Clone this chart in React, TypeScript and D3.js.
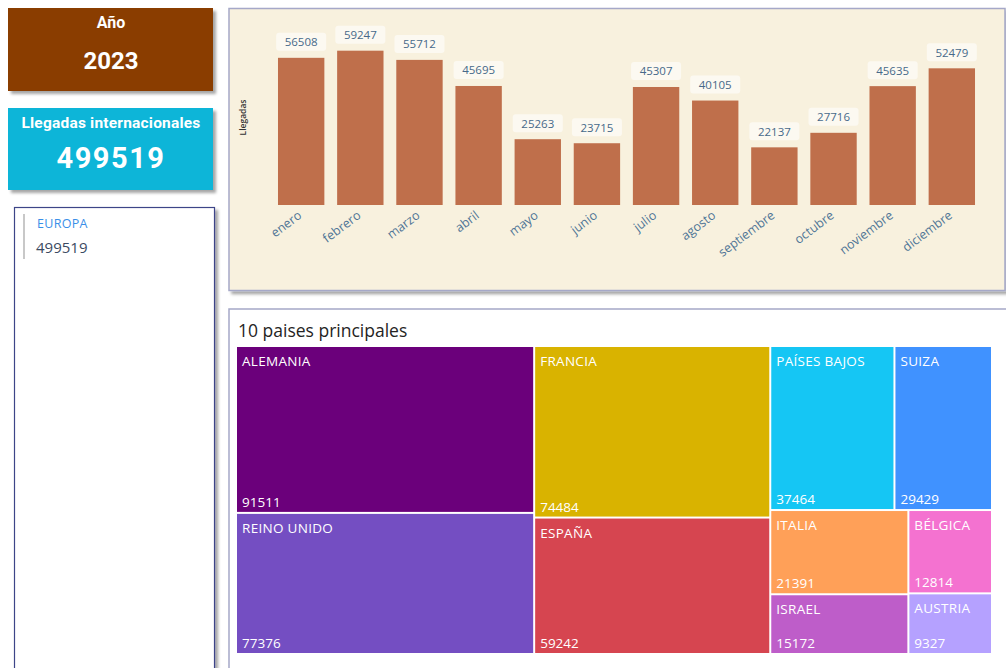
import * as d3 from 'd3'

const YEAR = '2023'
const TOTAL = 499519
const REGION = 'EUROPA'

const MONTHS = ['enero', 'febrero', 'marzo', 'abril', 'mayo', 'junio', 'julio', 'agosto', 'septiembre', 'octubre', 'noviembre', 'diciembre']
const ARRIVALS = [56508, 59247, 55712, 45695, 25263, 23715, 45307, 40105, 22137, 27716, 45635, 52479]

const COUNTRIES = ['ALEMANIA', 'REINO UNIDO', 'FRANCIA', 'ESPAÑA', 'PAÍSES BAJOS', 'SUIZA', 'ITALIA', 'ISRAEL', 'BÉLGICA', 'AUSTRIA']
const COUNTRY_VALUES = [91511, 77376, 74484, 59242, 37464, 29429, 21391, 15172, 12814, 9327]
const COUNTRY_COLORS = ['#6b007b', '#744ec2', '#d9b300', '#d64550', '#15c6f4', '#4092ff', '#ffa058', '#be5dc9', '#f472d0', '#b5a1ff']

const SEGOE = '"Open Sans", "Noto Sans", sans-serif'
const DIN = 'Roboto, "DejaVu Sans", sans-serif'

export default function App() {
  // bar chart scales
  const x = d3.scaleBand<string>()
    .domain(MONTHS)
    .range([271.6, 981.4])
    .paddingInner(0.216)
    .paddingOuter(0.108)
  const y = d3.scaleLinear().domain([0, 65000]).range([205, 35.7])

  // treemap
  const root = d3.hierarchy<any>({ children: COUNTRIES.map((name, i) => ({ name, value: COUNTRY_VALUES[i], color: COUNTRY_COLORS[i] })) })
    .sum((d: any) => d.value || 0)
    .sort((a, b) => (b.value || 0) - (a.value || 0))
  d3.treemap<any>().size([754, 306]).paddingInner(2).tile(d3.treemapSquarify)(root)
  const tiles = root.leaves() as d3.HierarchyRectangularNode<any>[]
  const tx = 237, ty = 347

  return (
    <svg width={1006} height={668} style={{ position: 'absolute', left: 0, top: 0, background: '#fff' }}>
      <defs>
        <filter id="shadow" x="-10%" y="-10%" width="130%" height="130%">
          <feDropShadow dx="3" dy="3" stdDeviation="1.5" floodColor="#000" floodOpacity="0.35" />
        </filter>
      </defs>

      {/* Año card */}
      <rect x={8} y={8} width={205} height={83} fill="#8a3d02" filter="url(#shadow)" />
      <text x={111} y={28} textAnchor="middle" fill="#fff" fontFamily={DIN} fontWeight={700} fontSize={16}>Año</text>
      <text x={111} y={69} textAnchor="middle" fill="#fff" fontFamily={DIN} fontWeight={700} fontSize={24}>{YEAR}</text>

      {/* Llegadas card */}
      <rect x={8} y={108} width={205} height={82} fill="#0bb5d8" filter="url(#shadow)" />
      <text x={111} y={128} textAnchor="middle" fill="#fff" fontFamily={DIN} fontWeight={700} fontSize={15.5} letterSpacing={0.2}>Llegadas internacionales</text>
      <text x={111} y={168} textAnchor="middle" fill="#fff" fontFamily={DIN} fontWeight={700} fontSize={29} letterSpacing={1.5}>{TOTAL}</text>

      {/* Region card */}
      <rect x={14.5} y={207.5} width={200} height={480} fill="#fff" stroke="#3d4488" strokeWidth={1.2} filter="url(#shadow)" />
      <rect x={23} y={214} width={2} height={45} fill="#c8c8c8" />
      <text x={37} y={227.5} fill="#3a8fe8" fontFamily={SEGOE} fontSize={12.5} letterSpacing={0.3}>{REGION}</text>
      <text x={36} y={253} fill="#3b4a62" fontFamily={SEGOE} fontSize={15}>{TOTAL}</text>

      {/* Bar chart panel */}
      <rect x={229} y={8.5} width={776} height={282} fill="#f8f1de" stroke="#a5a8c8" strokeWidth={1.5} filter="url(#shadow)" />
      <text transform="translate(246,117.5) rotate(-90)" textAnchor="middle" fill="#333" fontFamily={SEGOE} fontWeight={600} fontSize={8.5}>Llegadas</text>
      {MONTHS.map((m, i) => {
        const bx = x(m)!
        const bw = x.bandwidth()
        const top = y(ARRIVALS[i])
        const cx = bx + bw / 2
        return (
          <g key={m}>
            <rect x={bx} y={top} width={bw} height={y(0) - top} fill="#bf6f4b" />
            <rect x={cx - 25} y={top - 25} width={50} height={18} rx={3} fill="#fcf9f1" />
            <text x={cx} y={top - 11.5} textAnchor="middle" fill="#47698a" fontFamily={SEGOE} fontSize={11.5}>{ARRIVALS[i]}</text>
            <text transform={`translate(${cx - 4},${210}) rotate(-37)`} dy="0.71em" textAnchor="end" fill="#4f7596" fontFamily={SEGOE} fontSize={12.5}>{m}</text>
          </g>
        )
      })}

      {/* Treemap panel */}
      <rect x={229} y={309} width={790} height={400} fill="#fff" stroke="#a5a8c8" strokeWidth={1.5} filter="url(#shadow)" />
      <text x={238} y={337} fill="#252423" fontFamily={SEGOE} fontSize={17.5}>10 paises principales</text>
      {tiles.map(t => (
        <g key={t.data.name}>
          <rect x={tx + t.x0} y={ty + t.y0} width={t.x1 - t.x0} height={t.y1 - t.y0} fill={t.data.color} />
          <text x={tx + t.x0 + 5} y={ty + t.y0 + 19} fill="#fff" fontFamily={SEGOE} fontSize={13.5} letterSpacing={0.3}>{t.data.name}</text>
          <text x={tx + t.x0 + 5} y={ty + t.y1 - 5} fill="#fff" fontFamily={SEGOE} fontSize={13.5}>{t.data.value}</text>
        </g>
      ))}
    </svg>
  )
}
